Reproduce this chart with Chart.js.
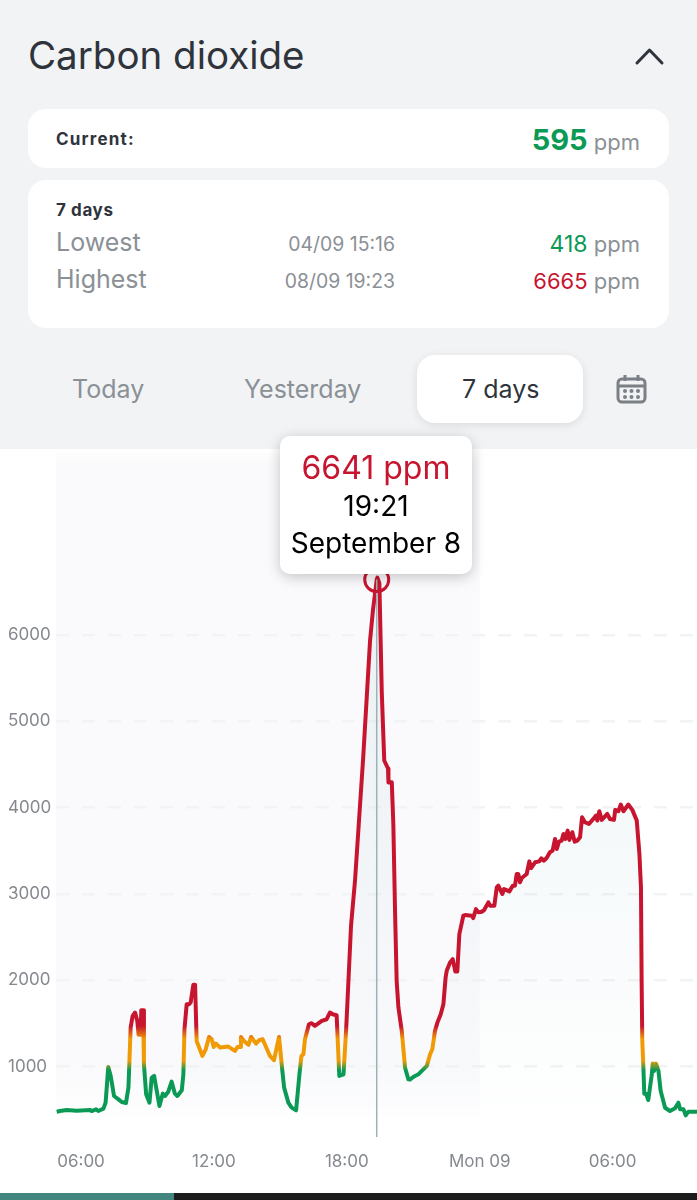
<!DOCTYPE html>
<html>
<head>
<meta charset="utf-8">
<title>Carbon dioxide</title>
<script src="https://cdn.jsdelivr.net/npm/chart.js@4"></script>
<style>
  html, body { margin: 0; padding: 0; }
  body { width: 697px; height: 1200px; overflow: hidden; background: #f1f3f5; position: relative; font-family: Inter, "Noto Sans", sans-serif; color: #2f343c; }
  .abs { position: absolute; white-space: nowrap; line-height: 1; }
  .card { position: absolute; background: #fff; left: 28px; width: 641px; border-radius: 18px; }
  .grey { color: #8b9096; }
  .green { color: #0a9a55; }
  .red { color: #c8152f; }
  .right { right: 57px; text-align: right; }
  #wrap { position: absolute; left: 0; top: 449px; width: 697px; height: 744px; background: #fff; }
  #tip { position: absolute; left: 280px; top: 436px; width: 192px; height: 138px; background: #fff; border-radius: 10px; box-shadow: 0 3px 14px rgba(0,0,0,.22); text-align: center; color: #000; font-size: 28px; }
  #tip div { position: absolute; left: 0; right: 0; line-height: 1; }
  #bar { position: absolute; left: 0; top: 1193px; width: 697px; height: 7px; background: #1c1c1c; }
  #bar div { width: 174px; height: 7px; background: #43857f; }
</style>
</head>
<body>
<div class="abs" style="left:28px;top:36px;font-size:38.5px;">Carbon dioxide</div>
<svg class="abs" style="left:634px;top:46px" width="32" height="22"><path d="M3 17 L15.5 4 L28 17" fill="none" stroke="#2f343c" stroke-width="3" stroke-linecap="round" stroke-linejoin="round"/></svg>

<div class="card" style="top:109px;height:59px"></div>
<div class="abs" style="left:56px;top:131px;font-size:17px;font-weight:700;letter-spacing:1.2px;">Current:</div>
<div class="abs right grey" style="top:125px;font-size:22px;"><span class="green" style="font-size:29px;font-weight:700;">595</span> ppm</div>

<div class="card" style="top:180px;height:148px"></div>
<div class="abs" style="left:56px;top:202px;font-size:17px;font-weight:700;letter-spacing:.6px;">7 days</div>
<div class="abs grey" style="left:56px;top:230px;font-size:25px;">Lowest</div>
<div class="abs grey" style="left:56px;top:267px;font-size:25px;">Highest</div>
<div class="abs grey" style="right:302px;top:235px;font-size:19.4px;">04/09 15:16</div>
<div class="abs grey" style="right:302px;top:272px;font-size:19.4px;">08/09 19:23</div>
<div class="abs right grey" style="top:233px;font-size:22px;"><span class="green" style="font-size:23px">418</span> ppm</div>
<div class="abs right grey" style="top:270px;font-size:22px;"><span class="red">6665</span> ppm</div>

<div class="abs grey" style="left:72px;top:377px;font-size:25px;">Today</div>
<div class="abs grey" style="left:244px;top:377px;font-size:25px;">Yesterday</div>
<div class="card" style="left:417px;top:355px;width:166px;height:68px;box-shadow:0 2px 8px rgba(0,0,0,.10)"></div>
<div class="abs" style="left:462px;top:377px;font-size:25px;">7 days</div>
<svg class="abs" style="left:616px;top:374px" width="31" height="30" fill="none" stroke="#7b8087" stroke-width="3">
  <rect x="2" y="5" width="27" height="23" rx="4"/>
  <path d="M2 12 H29 M9 1 V7 M22 1 V7"/>
  <g fill="#7b8087" stroke="none">
    <circle cx="9" cy="17" r="2"/><circle cx="15.5" cy="17" r="2"/><circle cx="22" cy="17" r="2"/>
    <circle cx="9" cy="23" r="2"/><circle cx="15.5" cy="23" r="2"/><circle cx="22" cy="23" r="2"/>
  </g>
</svg>

<div id="wrap"><canvas id="co2"></canvas></div>

<div id="tip">
  <div class="red" style="top:16px;font-size:32px;">6641 ppm</div>
  <div style="top:56px;">19:21</div>
  <div style="top:93px;">September 8</div>
</div>

<div id="bar"><div></div></div>

<script>
// hours counted from 00:00 on September 8
const hours = [4.90,5.05,5.35,5.80,6.41,6.48,6.68,6.78,7.01,7.11,7.23,7.34,7.49,7.69,7.84,8.03,8.14,8.18,8.24,8.33,8.44,8.54,8.60,8.69,8.72,8.80,8.84,8.94,9.09,9.19,9.30,9.42,9.54,9.69,9.79,9.94,10.09,10.24,10.35,10.55,10.62,10.67,10.77,10.88,10.95,11.07,11.15,11.22,11.48,11.63,11.78,11.90,11.99,12.08,12.28,12.65,12.95,13.06,13.18,13.22,13.36,13.56,13.68,13.90,14.04,14.20,14.53,14.71,14.94,14.98,15.09,15.17,15.36,15.51,15.71,15.86,15.95,16.04,16.11,16.29,16.41,16.56,16.87,17.09,17.24,17.36,17.54,17.66,17.85,17.97,18.19,18.37,18.55,18.74,19.05,19.18,19.35,19.38,19.47,19.58,19.69,19.86,19.88,20.03,20.10,20.18,20.25,20.33,20.48,20.63,20.78,20.85,21.00,21.08,21.23,21.61,21.76,21.86,21.98,22.09,22.24,22.36,22.46,22.51,22.66,22.78,22.90,22.99,23.08,23.26,23.34,23.64,23.71,23.83,23.94,24.09,24.20,24.39,24.47,24.66,24.77,24.84,25.02,25.10,25.34,25.49,25.59,25.67,25.74,25.82,25.90,26.12,26.24,26.32,26.50,26.69,26.78,26.90,27.02,27.17,27.29,27.40,27.48,27.58,27.70,27.78,27.87,27.97,28.05,28.18,28.29,28.41,28.53,28.62,28.75,28.93,29.13,29.25,29.31,29.40,29.51,29.76,29.88,30.06,30.12,30.26,30.37,30.49,30.71,30.89,31.09,31.21,31.28,31.31,31.34,31.39,31.43,31.51,31.61,31.77,31.81,31.87,31.96,32.07,32.17,32.37,32.59,32.82,32.97,33.05,33.20,33.30,33.42,33.81];
const ppm = [478,486,497,490,497,486,505,486,513,583,996,892,660,621,590,579,757,1027,1453,1588,1627,1530,1368,1368,1654,1654,1027,679,583,873,892,718,544,687,660,710,826,687,660,726,911,1433,1723,1723,1743,1948,1948,1298,1124,1201,1344,1317,1228,1267,1221,1232,1182,1228,1228,1344,1298,1252,1344,1267,1306,1317,1124,1074,1344,1344,950,757,583,525,494,911,1124,1143,1317,1491,1503,1472,1530,1549,1627,1607,1596,892,911,1433,2632,3154,3850,4581,5938,6286,6641,6665,6600,5323,4546,4453,4291,4295,3811,2767,1994,1684,1414,988,853,850,880,892,911,1008,1143,1201,1414,1510,1607,1723,2032,2110,2207,2245,2102,2102,2535,2748,2756,2748,2721,2825,2787,2794,2814,2903,2864,2864,3077,3096,3000,3057,3030,3096,3096,3231,3231,3135,3185,3231,3378,3301,3367,3378,3413,3386,3417,3483,3502,3637,3521,3606,3618,3695,3637,3734,3626,3715,3606,3618,3657,3889,3831,3811,3869,3908,3850,3958,3858,3927,3869,3858,3974,3958,4036,3958,4036,3974,3850,3463,3077,1994,1298,988,687,687,613,911,1035,950,1035,950,718,524,486,517,583,505,505,435,478,478];

const yTicks = [1000,2000,3000,4000,5000,6000];
const xTicks = [6,12,18,24,30];
const xTickLabels = ['06:00','12:00','18:00','Mon 09','06:00'];
const selected = { hour: 19.35, ppm: 6641 };
const dayBand = [4.87, 24];

const RED = '#c8152f', ORANGE = '#f09a05', GREEN = '#0a9a55';

// colour of the line depends on the ppm level, so the gradient follows the y scale
function levelGradient(c) {
  const { chart } = c;
  if (!chart.chartArea) return GREEN;
  const y = chart.scales.y;
  const top = y.getPixelForValue(y.max), bottom = y.getPixelForValue(y.min);
  const g = chart.ctx.createLinearGradient(0, bottom, 0, top);
  const stop = v => (v - y.min) / (y.max - y.min);
  g.addColorStop(0, GREEN);
  g.addColorStop(stop(960), GREEN);
  g.addColorStop(stop(1070), ORANGE);
  g.addColorStop(stop(1320), ORANGE);
  g.addColorStop(stop(1470), RED);
  g.addColorStop(1, RED);
  return g;
}

function areaGradient(c) {
  const { chart } = c;
  if (!chart.chartArea) return 'transparent';
  const a = chart.chartArea;
  const g = chart.ctx.createLinearGradient(0, chart.scales.y.getPixelForValue(5000), 0, a.bottom);
  g.addColorStop(0, 'rgba(196,218,224,0.22)');
  g.addColorStop(1, 'rgba(196,218,224,0.0)');
  return g;
}

// light band behind the whole of September 8
const bandPlugin = {
  id: 'dayBand',
  beforeDraw(chart) {
    const { ctx, chartArea: a, scales: { x } } = chart;
    const left = x.getPixelForValue(dayBand[0]), right = x.getPixelForValue(dayBand[1]);
    const g = ctx.createLinearGradient(0, a.top, 0, a.bottom);
    g.addColorStop(0, 'rgba(250,250,252,0)');
    g.addColorStop(0.025, 'rgba(250,250,252,1)');
    g.addColorStop(0.9, 'rgba(250,250,252,1)');
    g.addColorStop(0.98, 'rgba(250,250,252,0)');
    ctx.save();
    ctx.fillStyle = g;
    ctx.fillRect(left, a.top, right - left, a.bottom - a.top);
    ctx.restore();
  }
};

new Chart(document.getElementById('co2'), {
  type: 'line',
  data: {
    datasets: [
      {
        label: 'selected',
        data: [{ x: selected.hour, y: 185 }, { x: selected.hour, y: selected.ppm }],
        borderColor: '#9fb1b6',
        borderWidth: 1.5,
        pointRadius: c => c.dataIndex === 1 ? 12 : 0,
        pointBorderColor: RED,
        pointBorderWidth: 3,
        pointBackgroundColor: 'transparent',
        order: 0
      },
      {
        label: 'CO2',
        data: hours.map((h, i) => ({ x: h, y: ppm[i] })),
        borderColor: levelGradient,
        backgroundColor: areaGradient,
        borderWidth: 4,
        borderJoinStyle: 'round',
        pointRadius: 0,
        tension: 0,
        fill: 'start',
        order: 1
      }
    ]
  },
  options: {
    responsive: true,
    maintainAspectRatio: false,
    animation: false,
    layout: { autoPadding: false, padding: { left: 8 } },
    plugins: { legend: { display: false }, tooltip: { enabled: false } },
    scales: {
      x: {
        type: 'linear',
        min: 4.87,
        max: 33.81,
        grid: { display: false },
        border: { display: false },
        afterFit(s) { s.height = 56; s.paddingLeft = 0; s.paddingRight = 0; },
        afterBuildTicks(s) { s.ticks = xTicks.map(v => ({ value: v })); },
        ticks: {
          autoSkip: false,
          maxRotation: 0,
          padding: 7,
          color: '#85898e',
          font: { family: 'Inter', size: 17 },
          callback: v => xTickLabels[xTicks.indexOf(v)]
        }
      },
      y: {
        min: 185,
        max: 8154,
        grid: { color: '#f2f3f4', lineWidth: 2.5, drawTicks: false },
        border: { display: false, dash: [13, 13] },
        afterFit(s) { s.width = 48; s.paddingTop = 0; s.paddingBottom = 0; },
        afterBuildTicks(s) { s.ticks = yTicks.map(v => ({ value: v })); },
        ticks: {
          crossAlign: 'far',
          padding: 0,
          color: '#85898e',
          font: { family: 'Inter', size: 17 },
          callback: v => String(v)
        }
      }
    }
  },
  plugins: [bandPlugin]
});
</script>
</body>
</html>
